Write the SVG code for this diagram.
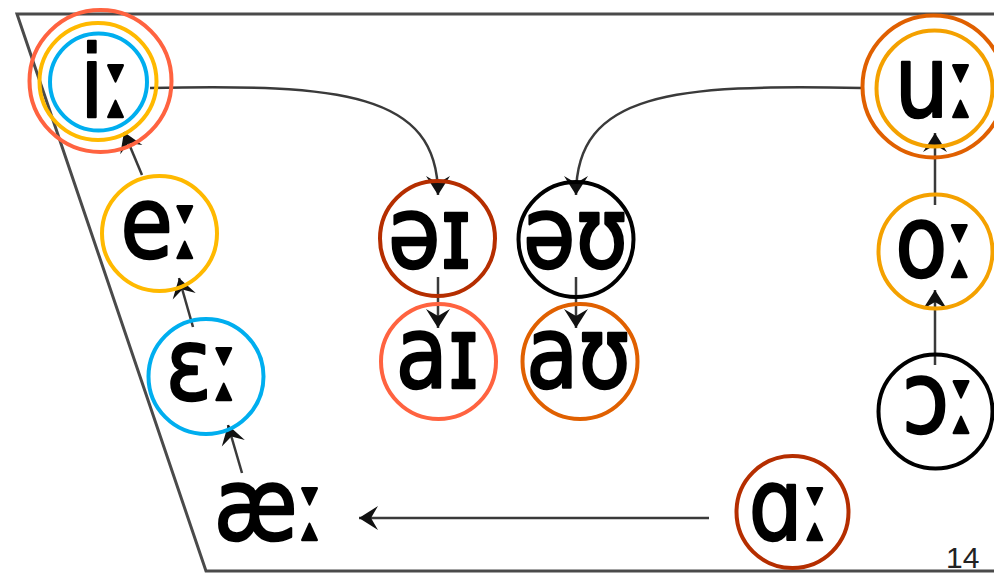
<svg xmlns="http://www.w3.org/2000/svg" width="994" height="574" viewBox="0 0 994 574">
<style>
.frame{fill:none;stroke:#4a4a4a;stroke-width:3}
.con{fill:none;stroke:#3a3a3a;stroke-width:2.5}
.v{font-family:"DejaVu Sans",sans-serif;font-size:100px;fill:#000;stroke:#000;stroke-width:2.5;stroke-linejoin:round;text-anchor:middle}
.c{fill:none;stroke-width:4}
.redor{stroke:#ff6340}
.yel{stroke:#ffb900}
.blue{stroke:#00aeef}
.dred{stroke:#b52e00}
.orng{stroke:#e06000}
.yor{stroke:#f4a100}
.blk{stroke:#000}
.pg{font-family:"Liberation Sans",sans-serif;font-size:30px;fill:#222}
</style>
<defs>
<marker id="ah" markerUnits="userSpaceOnUse" markerWidth="28" markerHeight="28" viewBox="-20 -14 22 28" refX="0" refY="0" orient="auto">
<path d="M0,0 L-19,-12 L-12,0 L-19,12 Z" fill="#111"/>
</marker>
</defs>
<rect width="994" height="574" fill="#fff"/>
<g id="frame">
<path class="frame" d="M994,14 L17,14 L206,571 L994,571"/>
</g>
<g id="connectors">
<path class="con" marker-end="url(#ah)" d="M150,88 C340,84 438,92 438,195"/>
<path class="con" marker-end="url(#ah)" d="M862,88 C674,84 576,92 576,195"/>
<path class="con" marker-end="url(#ah)" d="M438,277 L438,328"/>
<path class="con" marker-end="url(#ah)" d="M576,277 L576,328"/>
<path class="con" marker-end="url(#ah)" d="M242,473 L228,425"/>
<path class="con" marker-end="url(#ah)" d="M193,327 L179,278"/>
<path class="con" marker-end="url(#ah)" d="M142,175 L124,132"/>
<path class="con" marker-end="url(#ah)" d="M935,365 L935,290"/>
<path class="con" marker-end="url(#ah)" d="M935,205 L935,133"/>
<path class="con" marker-end="url(#ah)" d="M709,518 L359,518"/>
</g>
<g id="n-i">
<text class="v" transform="translate(106,117) scale(0.85,1)">iː</text>
<circle class="c redor" cx="100.5" cy="81" r="71"/>
<circle class="c yel" cx="98" cy="81.5" r="58.5"/>
<circle class="c blue" cx="98.5" cy="82" r="48.5"/>
</g>
<g id="n-e">
<text class="v" transform="translate(161,258) scale(0.85,1)">eː</text>
<circle class="c yel" cx="159.5" cy="233.5" r="57.5"/>
</g>
<g id="n-eps">
<text class="v" transform="translate(203,400) scale(0.85,1)">ɛː</text>
<circle class="c blue" cx="206" cy="376.5" r="57.5"/>
</g>
<g id="n-ae">
<text class="v" transform="translate(270,540) scale(0.85,1)">æː</text>
</g>
<g id="n-alpha">
<text class="v" transform="translate(790,540) scale(0.85,1)">ɑː</text>
<circle class="c dred" cx="792.5" cy="512" r="56"/>
</g>
<g id="n-ei">
<text class="v" transform="translate(430,268) scale(0.85,1)">əɪ</text>
<circle class="c dred" cx="437.5" cy="238.5" r="57.5"/>
</g>
<g id="n-eu">
<text class="v" transform="translate(575.5,268) scale(0.85,1)">əʊ</text>
<circle class="c blk" cx="576" cy="239.5" r="57.5"/>
</g>
<g id="n-ai">
<text class="v" transform="translate(437.5,388) scale(0.85,1)">aɪ</text>
<circle class="c redor" cx="438.5" cy="361.5" r="57.5"/>
</g>
<g id="n-au">
<text class="v" transform="translate(578.5,388) scale(0.85,1)">aʊ</text>
<circle class="c orng" cx="580" cy="361.5" r="57.5"/>
</g>
<g id="n-u">
<text class="v" transform="translate(936,117) scale(0.85,1)">uː</text>
<circle class="c orng" cx="933.5" cy="86.5" r="71"/>
<circle class="c yor" cx="934.5" cy="88.5" r="58"/>
</g>
<g id="n-o">
<text class="v" transform="translate(935.5,277) scale(0.85,1)">oː</text>
<circle class="c yor" cx="935.5" cy="251.5" r="57"/>
</g>
<g id="n-open-o">
<text class="v" transform="translate(940,433) scale(0.85,1)">ɔː</text>
<circle class="c blk" cx="935.5" cy="411.5" r="57"/>
</g>
<text class="pg" x="946" y="568">14</text>
</svg>
